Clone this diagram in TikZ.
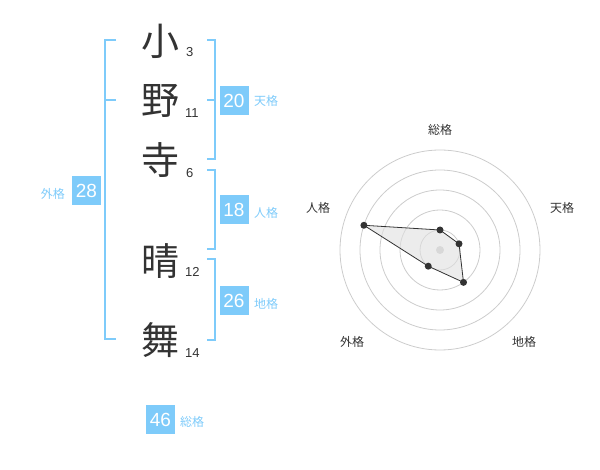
\documentclass[tikz,border=0pt]{standalone}
\usepackage{fontspec}
\setmainfont{Liberation Sans}
\newfontfamily\jp{Noto Sans CJK JP}
\usepackage{xcolor}
\usepackage{tikz}
\usetikzlibrary{positioning, calc}
\definecolor{kakublue}{RGB}{126, 203, 250}
\definecolor{txtgray}{RGB}{51, 51, 51}
\definecolor{ringgray}{RGB}{204, 204, 204}
\tikzstyle{kanji} = [font=\jp\fontsize{38}{38}\selectfont, text=txtgray, inner sep=0pt]
\tikzstyle{strokenum} = [font=\fontsize{13}{13}\selectfont, text=txtgray, inner sep=0pt, anchor=west]
\tikzstyle{scorebox} = [fill=kakublue, text=white, minimum size=29pt, inner sep=0pt, font=\fontsize{19}{19}\selectfont]
\tikzstyle{kaku} = [text=kakublue, inner sep=0pt, font=\jp\fontsize{12}{12}\selectfont]
\tikzstyle{bracket} = [draw=kakublue, line width=2pt]
\tikzstyle{axislabel} = [text=txtgray, inner sep=0pt, font=\jp\fontsize{12}{12}\selectfont]
\tikzstyle{vertex} = [circle, fill=txtgray, inner sep=0pt, minimum size=7pt]

\begin{document}
\begin{tikzpicture}[x=1pt, y=-1pt]
    \useasboundingbox (0,0) rectangle (600,470);

    % Name
    \node[kanji] (k1) at (160,41) {小};
    \node[kanji] (k2) at (160,101) {野};
    \node[kanji] (k3) at (160,160) {寺};
    \node[kanji] (k4) at (160,261) {晴};
    \node[kanji] (k5) at (160,340) {舞};

    % Strokes
    \node[strokenum] (s1) at (186,52) {3};
    \node[strokenum] (s2) at (185,113) {11};
    \node[strokenum] (s3) at (186,173) {6};
    \node[strokenum] (s4) at (185,272) {12};
    \node[strokenum] (s5) at (185,353) {14};

    % Brackets
    \draw[bracket] (116,40) -- (104.5,40) -- (104.5,339) -- (116,339);
    \draw[bracket] (104.5,100) -- (116,100);
    \draw[bracket] (207,40) -- (214.5,40) -- (214.5,159) -- (207,159);
    \draw[bracket] (214.5,100) -- (207,100);
    \draw[bracket] (207,170) -- (214.5,170) -- (214.5,249) -- (207,249);
    \draw[bracket] (207,259) -- (214.5,259) -- (214.5,340) -- (207,340);

    % Scores
    \node[scorebox] (gai) at (86.5,190.5) {28};
    \node[kaku, anchor=east] (gail) at (65,194) {外格};
    \node[scorebox] (ten) at (234,100.5) {20};
    \node[kaku, anchor=west] (tenl) at (254,101) {天格};
    \node[scorebox] (jin) at (234,210) {18};
    \node[kaku, anchor=west] (jinl) at (254,213) {人格};
    \node[scorebox] (chi) at (234,301) {26};
    \node[kaku, anchor=west] (chil) at (254,304) {地格};
    \node[scorebox] (sou) at (160.5,419.5) {46};
    \node[kaku, anchor=west] (soul) at (180,422) {総格};

    % Radar
    \coordinate (c) at (440,250);
    \foreach \r in {20,40,...,100}
        \draw[ringgray, line width=0.8pt] (c) circle[radius=\r];
    \fill[ringgray] (c) circle[radius=4];
    \path (c) ++(-90:20) coordinate (q1);
    \path (c) ++(-18:20) coordinate (q2);
    \path (c) ++(54:40) coordinate (q3);
    \path (c) ++(126:20) coordinate (q4);
    \path (c) ++(-162:80) coordinate (q5);
    \filldraw[fill=black!12, fill opacity=0.6, draw=txtgray, line width=0.8pt]
        (q1) -- (q2) -- (q3) -- (q4) -- (q5) -- cycle;
    \foreach \i in {1,...,5}
        \node[vertex] (v\i) at (q\i) {};

    % Axis labels
    \node[axislabel] (a1) at (440,130) {総格};
    \node[axislabel] (a2) at (562,208) {天格};
    \node[axislabel] (a3) at (524,342) {地格};
    \node[axislabel] (a4) at (352,342) {外格};
    \node[axislabel] (a5) at (318,208) {人格};
\end{tikzpicture}
\end{document}
